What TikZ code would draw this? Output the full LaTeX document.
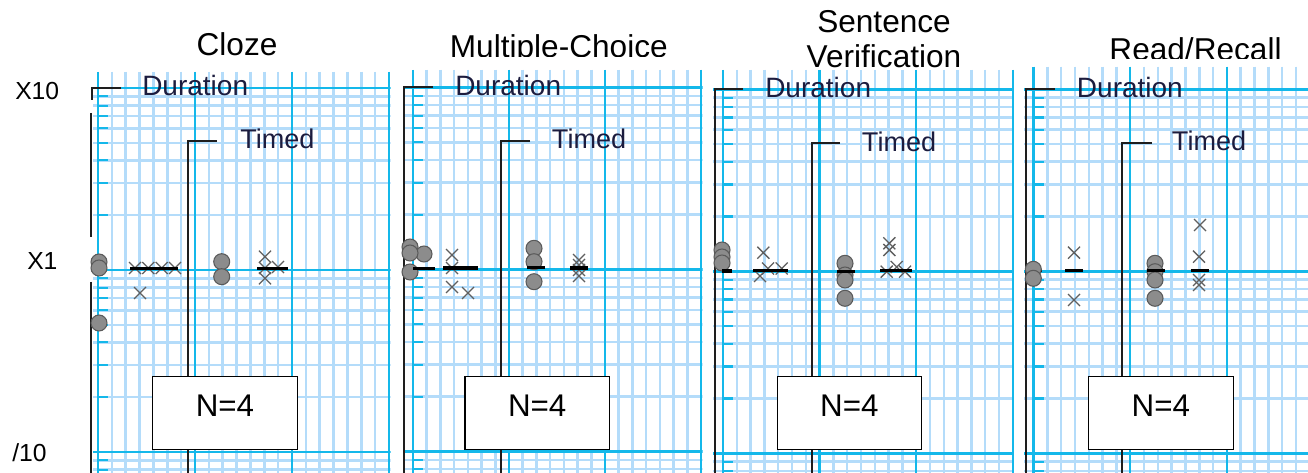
\documentclass[tikz,border=0pt]{standalone}
\usepackage{fontspec}
\setmainfont{Liberation Sans}
\definecolor{gridlight}{RGB}{180,220,250}
\definecolor{gridbright}{RGB}{20,184,234}
\definecolor{dotfill}{RGB}{140,140,140}
\definecolor{dotedge}{RGB}{90,90,90}
\definecolor{crossc}{RGB}{95,95,95}
\definecolor{navy}{RGB}{28,28,62}
\definecolor{brk}{RGB}{30,30,30}
\tikzset{
  lightline/.style={draw=gridlight, line width=1.9pt},
  brightline/.style={draw=gridbright, line width=1.9pt},
  tickline/.style={draw=gridbright, line width=1.6pt},
  bracketline/.style={draw=brk, line width=1.5pt},
  circ/.style={fill=dotfill, draw=dotedge, line width=0.8pt},
  crs/.style={draw=crossc, line width=1pt},
  medbar/.style={draw=black, line width=2.6pt},
  titletext/.style={font=\fontsize{23.7}{28}\selectfont, inner sep=0pt, text=black},
  axistext/.style={font=\fontsize{18.5}{22}\selectfont, inner sep=0pt, anchor=base west},
  durtext/.style={font=\fontsize{21}{24}\selectfont, inner sep=0pt, anchor=base west, text=navy},
  timtext/.style={font=\fontsize{20.3}{24}\selectfont, inner sep=0pt, anchor=base west, text=navy},
  nbox/.style={draw=black, fill=white, line width=1.1pt},
  ntext/.style={font=\fontsize{23.5}{28}\selectfont, inner sep=0pt, anchor=base}
}
% #1 horizontal left, #2 left major x, #3 major spacing, #4 top, #5 y of X10, #6 right end
\newcommand{\loggrid}[6]{%
  \begin{scope}
    \clip (#1,#4) rectangle (#6,473);
    \foreach \k in {1,...,24}{\draw[lightline] ({#2+\k*#3/7},#4) -- ({#2+\k*#3/7},473);}
    \foreach \d in {0,1,2}{\foreach \v in {2,...,9}{%
      \draw[lightline] (#1,{#5+\d*182+182*(1-log10(\v))}) -- (#6,{#5+\d*182+182*(1-log10(\v))});}}
    \foreach \j in {0,1,2,3}{\draw[brightline] ({#2+\j*#3},#4) -- ({#2+\j*#3},473);}
    \foreach \d in {0,1,2}{\draw[brightline] (#1,{#5+\d*182}) -- (#6,{#5+\d*182});}
    \foreach \d in {0,1,2}{\foreach \v in {2,...,9}{%
      \draw[tickline] (#2,{#5+\d*182+182*(1-log10(\v))}) -- ({#2+10},{#5+\d*182+182*(1-log10(\v))});}}
  \end{scope}}
\newcommand{\pcirc}[2]{\filldraw[circ] (#1,#2) circle[radius=8];}
\newcommand{\pcross}[2]{\draw[crs] ({#1-6},{#2-6}) -- ({#1+6},{#2+6}) ({#1-6},{#2+6}) -- ({#1+6},{#2-6});}
\newcommand{\pbar}[3]{\draw[medbar] (#1,#3) -- (#2,#3);}
\begin{document}
\begin{tikzpicture}[x=0.75pt,y=-0.75pt]
\useasboundingbox[fill=white] (0,0) rectangle (1308,473);

% titles (clipped at the top of the grids)
\begin{scope}\clip (100,0) rectangle (390,55.5);
  \node[titletext, anchor=base] (t1) at (237,56) {Cloze};\end{scope}
\begin{scope}\clip (400,0) rectangle (705,57);
  \node[titletext, anchor=base] (t2) at (558.8,57.6) {Multiple-Choice};\end{scope}
\node[titletext, anchor=base] (t3a) at (884,32.5) {Sentence};
\begin{scope}\clip (700,40) rectangle (1020,68.3);
  \node[titletext, anchor=base] (t3b) at (884,67.6) {Verification};\end{scope}
\begin{scope}\clip (1020,0) rectangle (1308,58.3);
  \node[titletext, anchor=base] (t4) at (1195.5,61) {Read/Recall};\end{scope}

% grids
\loggrid{93}{98}{97}{72}{88}{390.5}
\loggrid{403}{413}{96}{70}{87.5}{702.5}
\loggrid{713}{723}{96.6}{70}{89.3}{1014.3}
\loggrid{1024}{1033.5}{96.7}{66.7}{89.3}{1308}

% axis labels
\node[axistext] (lx10) at (15,99.3) {X10};
\node[axistext] (lx1) at (27,269.3) {X1};
\node[axistext] (l10) at (12,461) {/10};

% brackets
\draw[bracketline] (121,88) -- (92,88) -- (92,100);
\draw[bracketline] (90.5,113) -- (90.5,237);
\draw[bracketline] (90.5,282) -- (90.5,473);
\draw[bracketline] (217,141) -- (188,141) -- (188,473);
\draw[bracketline] (433,87.5) -- (404,87.5) -- (404,473);
\draw[bracketline] (530,140.7) -- (500.7,140.7) -- (500.7,473);
\draw[bracketline] (743,89.3) -- (714.5,89.3) -- (714.5,473);
\draw[bracketline] (840,143.3) -- (811.5,143.3) -- (811.5,473);
\draw[bracketline] (1055,89.3) -- (1025.7,89.3) -- (1025.7,473);
\draw[bracketline] (1151.7,142.7) -- (1122.3,142.7) -- (1122.3,473);

% bracket labels
\node[durtext] (d1) at (142,96) {Duration};
\node[durtext] (d2) at (455,96) {Duration};
\node[durtext] (d3) at (765,97.8) {Duration};
\node[durtext] (d4) at (1076.7,97.8) {Duration};
\node[timtext] (m1) at (240,149) {Timed};
\node[timtext] (m2) at (551.7,149) {Timed};
\node[timtext] (m3) at (861.7,151.5) {Timed};
\node[timtext] (m4) at (1171.7,151) {Timed};

% panel 1 data
\pcirc{99}{262}\pcirc{99}{268}\pcirc{99}{323}
\pcross{135}{268}\pcross{148.3}{268}\pcross{161.7}{268}\pcross{175}{268}\pcross{140}{293}
\pbar{130}{178}{268.3}
\pcirc{221.7}{261.7}\pcirc{221.7}{276.7}
\pcross{265}{256.7}\pcross{265}{268}\pcross{278}{267}\pcross{265}{278.3}
\pbar{257}{288}{268.3}

% panel 2 data
\pcirc{410}{247}\pcirc{424}{254}\pcirc{410}{253}\pcirc{410}{272}
\pbar{413}{435}{268.3}
\pcross{452}{255}\pcross{452}{268}\pcross{452}{287}\pcross{468}{293}
\pbar{443}{478}{268}
\pcirc{534}{248.3}\pcirc{534}{261.7}\pcirc{534}{281.7}
\pbar{527}{545}{267.7}
\pcross{579}{260}\pcross{579}{265}\pcross{579}{270}\pcross{579}{276}
\pbar{570}{588}{268}

% panel 3 data
\pcirc{722}{250}\pcirc{722}{257}\pcirc{722}{263}
\pbar{722}{732}{271}
\pcross{763.3}{252.7}\pcross{760}{276}\pcross{768}{268.5}\pcross{781.7}{268.5}
\pbar{753}{788}{270.7}
\pcirc{845}{263.3}\pcirc{845}{275}\pcirc{845}{280}\pcirc{845}{298.3}
\pbar{837}{855}{271.7}
\pcross{889.3}{243.3}\pcross{889.3}{250}\pcross{886.7}{271.7}\pcross{896.7}{267}\pcross{905}{271.7}
\pbar{880}{911.7}{270.7}

% panel 4 data
\pbar{1027}{1042}{270.7}
\pcirc{1033.3}{269.3}\pcirc{1033.3}{278.3}
\pcross{1074}{252.7}\pcross{1074}{300}
\pbar{1065}{1083.3}{270.7}
\pcirc{1155}{263.3}\pcirc{1155}{271.7}\pcirc{1155}{280}\pcirc{1155}{298.3}
\pbar{1146.7}{1165}{270.7}
\pcross{1200}{225}\pcross{1199}{256.7}\pcross{1199}{280}\pcross{1199}{285}
\pbar{1190.7}{1209.3}{270.7}

% N=4 boxes
\draw[nbox] (152.7,376.7) rectangle (297.3,449.3);
\node[ntext] (n1) at (225,416.7) {N=4};
\draw[nbox] (465,376.7) rectangle (609.3,449.3);
\node[ntext] (n2) at (537.2,416.7) {N=4};
\draw[nbox] (777.3,376.7) rectangle (921.3,449.3);
\node[ntext] (n3) at (849.3,416.7) {N=4};
\draw[nbox] (1088.3,376.7) rectangle (1233.3,449.3);
\node[ntext] (n4) at (1160.8,416.7) {N=4};
\end{tikzpicture}
\end{document}
